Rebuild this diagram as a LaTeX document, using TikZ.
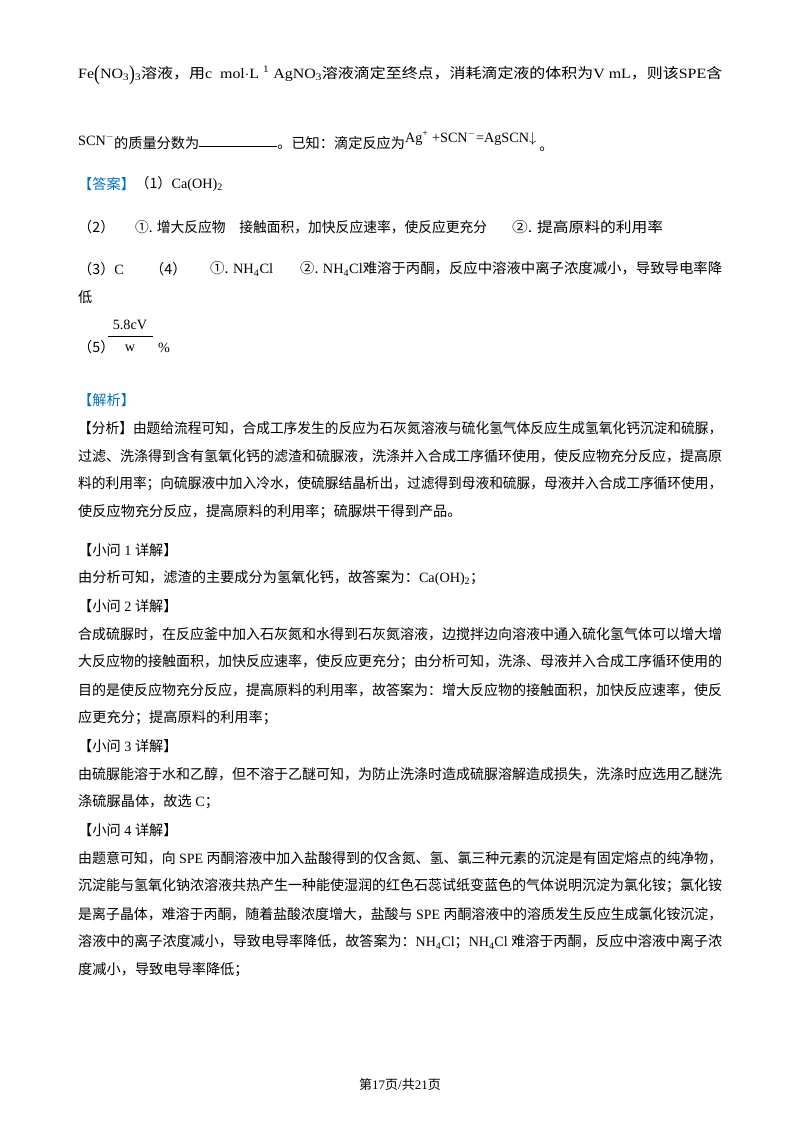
\documentclass[tikz,border=0pt]{standalone}
\usepackage{fontspec}
\usepackage{graphicx}
\setmainfont{Liberation Serif}
\newfontfamily\cjk{Noto Sans CJK SC}
\definecolor{ansblue}{RGB}{0,112,192}
\newcommand\en[1]{{\rmfamily #1}}
\newcommand\jl[1]{\resizebox{644pt}{\height}{#1}}
\newcommand\sub[1]{\textsubscript{#1}}
\newcommand\bigp[1]{\raisebox{-2pt}{\scalebox{1.1}[1.5]{#1}}}
\begin{document}
\begin{tikzpicture}[x=1pt,y=-1pt,
  txt/.style={anchor=west,inner sep=0pt,font=\cjk\fontsize{14.2}{16}\selectfont},
  blue/.style={txt,text=ansblue}]
\useasboundingbox[fill=white] (0,0) rectangle (800,1132);
\node[txt] (l1) at (78,75) {\jl{\en{Fe\bigp{(}NO\sub{3}\bigp{)}\sub{3}}溶液，用\en{c\ \ mol$\cdot$L \textsuperscript{1} AgNO\sub{3}}溶液滴定至终点，消耗滴定液的体积为\en{V mL}，则该\en{SPE}含}};
\node[txt] (l2) at (78,141) {\en{SCN\textsuperscript{$-$}}\raisebox{-3pt}{的质量分数为}\en{\underline{\hspace{78pt}}}\raisebox{-3pt}{。已知：滴定反应为}\en{\raisebox{3pt}{Ag\textsuperscript{+} +SCN\textsuperscript{$-$}=AgSCN$\downarrow$}}\raisebox{-5pt}{ 。}};
\node[blue] (ans) at (78,184) {【答案】};
\node[txt] (a1) at (ans.east) [anchor=west] {（1）\en{Ca(OH)\sub{2}}};
\node[txt] (a2) at (78,227) {（2）};
\node[txt] (a2a) at (135,227) {\resizebox{352pt}{\height}{①. 增大反应物\hspace{14pt}接触面积，加快反应速率，使反应更充分}};
\node[txt] (a2b) at (512,227) {\resizebox{151pt}{\height}{②. 提高原料的利用率}};
\node[txt] (a3) at (78,269) {（3）\en{C}};
\node[txt] (a4) at (150,269) {（4）};
\node[txt] (a4a) at (210,269) {\resizebox{63pt}{\height}{①. \en{NH\sub{4}Cl}}};
\node[txt] (a4b) at (300,269) {\resizebox{422pt}{\height}{②. \en{NH\sub{4}Cl}难溶于丙酮，反应中溶液中离子浓度减小，导致导电率降}};
\node[txt] (a4c) at (78,297) {低};
\node[txt] (a5) at (78,347) {（5）};
\node[txt,anchor=center] (num) at (130,325) {\en{5.8cV}};
\node[txt,anchor=center] (den) at (130,348) {\en{w}};
\draw[line width=0.6pt] (108,336) -- (153,336);
\node[txt] (pct) at (158,348) {\en{\%}};
\node[blue] (jx) at (78,400) {【解析】};
\foreach \y/\t in {
428/{【分析】由题给流程可知，合成工序发生的反应为石灰氮溶液与硫化氢气体反应生成氢氧化钙沉淀和硫脲，},
456/{过滤、洗涤得到含有氢氧化钙的滤渣和硫脲液，洗涤并入合成工序循环使用，使反应物充分反应，提高原},
484/{料的利用率；向硫脲液中加入冷水，使硫脲结晶析出，过滤得到母液和硫脲，母液并入合成工序循环使用，},
634/{合成硫脲时，在反应釜中加入石灰氮和水得到石灰氮溶液，边搅拌边向溶液中通入硫化氢气体可以增大增},
662/{大反应物的接触面积，加快反应速率，使反应更充分；由分析可知，洗涤、母液并入合成工序循环使用的},
690/{目的是使反应物充分反应，提高原料的利用率，故答案为：增大反应物的接触面积，加快反应速率，使反},
774/{由硫脲能溶于水和乙醇，但不溶于乙醚可知，为防止洗涤时造成硫脲溶解造成损失，洗涤时应选用乙醚洗},
858/{由题意可知，向\en{ SPE }丙酮溶液中加入盐酸得到的仅含氮、氢、氯三种元素的沉淀是有固定熔点的纯净物，},
886/{沉淀能与氢氧化钠浓溶液共热产生一种能使湿润的红色石蕊试纸变蓝色的气体说明沉淀为氯化铵；氯化铵},
914/{是离子晶体，难溶于丙酮，随着盐酸浓度增大，盐酸与\en{ SPE }丙酮溶液中的溶质发生反应生成氯化铵沉淀，},
942/{溶液中的离子浓度减小，导致电导率降低，故答案为：\en{NH\sub{4}Cl}；\en{NH\sub{4}Cl }难溶于丙酮，反应中溶液中离子浓}}
  \node[txt] at (78,\y) {\jl{\t}};
\foreach \y/\t in {
512/{使反应物充分反应，提高原料的利用率；硫脲烘干得到产品。},
550/{【小问\en{ 1 }详解】},
578/{由分析可知，滤渣的主要成分为氢氧化钙，故答案为：\en{Ca(OH)\sub{2}}；},
606/{【小问\en{ 2 }详解】},
718/{应更充分；提高原料的利用率；},
746/{【小问\en{ 3 }详解】},
802/{涤硫脲晶体，故选\en{ C}；},
830/{【小问\en{ 4 }详解】},
970/{度减小，导致电导率降低；}}
  \node[txt] at (78,\y) {\t};
\node[txt,anchor=center,font=\cjk\fontsize{13}{15}\selectfont] (foot) at (400,1085) {第\en{17}页\en{/}共\en{21}页};
\end{tikzpicture}
\end{document}
